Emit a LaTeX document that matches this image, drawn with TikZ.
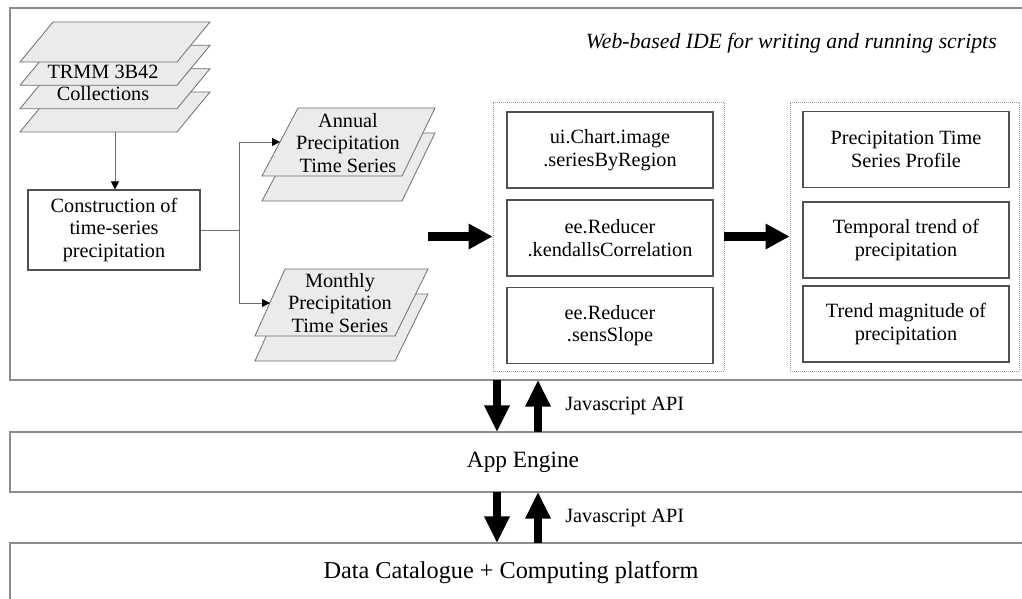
\documentclass[tikz,border=0pt]{standalone}
\usepackage{fontspec}
\setmainfont{Liberation Serif}
\usetikzlibrary{arrows.meta}

\definecolor{sheetfill}{HTML}{EBEBEB}
\definecolor{sheetline}{HTML}{6E6E6E}
\definecolor{boxline}{HTML}{505050}
\definecolor{frameline}{HTML}{8C8C8C}
\definecolor{dotline}{HTML}{9A9A9A}

\begin{document}
\begin{tikzpicture}[x=0.75pt,y=-0.75pt,
  txt/.style={font=\fontsize{15.2}{16.9}\selectfont, align=center, inner sep=0pt},
  bandtxt/.style={font=\fontsize{17.5}{19}\selectfont, inner sep=0pt},
  titletxt/.style={font=\fontsize{16.3}{18}\selectfont\itshape, inner sep=0pt},
  sheet/.style={fill=sheetfill, draw=sheetline, line width=0.6pt},
  frame/.style={draw=frameline, line width=0.9pt},
  group/.style={draw=dotline, densely dotted, line width=0.5pt, inner sep=0pt},
  stepbox/.style={txt, draw=boxline, line width=0.9pt, minimum width=154.5pt, minimum height=57pt},
  thin/.style={draw=sheetline, line width=0.6pt, -{Triangle[length=6pt,width=6pt,color=black]}},
  bigarrow/.style={line width=7pt, -{Triangle[length=18pt,width=18pt]}},
  vbigarrow/.style={line width=6.5pt, -{Triangle[length=20pt,width=18pt]}}]

\useasboundingbox (0,0) rectangle (1022,599);

% layer frames
\draw[frame] (1022,8) -- (10,8) -- (10,380) -- (1022,380);
\draw[frame] (1022,432) -- (10,432) -- (10,492) -- (1022,492);
\draw[frame] (1022,543) -- (10,543) -- (10,600);

\node[titletxt, anchor=east] (ide) at (997,43) {Web-based IDE for writing and running scripts};

% TRMM collection stack (back to front)
\foreach \dy in {70,46.7,23.3,0}
  \draw[sheet] (53,22+\dy) -- (210,22+\dy) -- (177,62+\dy) -- (20,62+\dy) -- cycle;
\node[txt] (trmm) at (103,83) {TRMM 3B42\\Collections};
\coordinate (stackfoot) at (115,132);

\node[txt, draw=boxline, line width=0.9pt, minimum width=129pt, minimum height=60pt]
  (cons) at (114,230) {Construction of\\time-series\\precipitation};
\draw[thin] (stackfoot) -- (stackfoot |- cons.north);

% annual series sheets
\foreach \dy in {25,0}
  \draw[sheet] (298,108+\dy) -- (435,108+\dy) -- (402,176+\dy) -- (262,176+\dy) -- cycle;
\node[txt] (annual) at (348,143) {Annual\\Precipitation\\Time Series};
\coordinate (annualL) at (280,142);

% monthly series sheets
\foreach \dy in {25,0}
  \draw[sheet] (285,269+\dy) -- (428,269+\dy) -- (395,336+\dy) -- (255,336+\dy) -- cycle;
\node[txt] (monthly) at (340,303) {Monthly\\Precipitation\\Time Series};
\coordinate (monthlyL) at (270,303);

\coordinate (fork) at (239,230);
\draw[draw=sheetline, line width=0.6pt] (cons.east) -- (fork);
\draw[thin] (fork) |- (annualL);
\draw[thin] (fork) |- (monthlyL);

% Earth Engine functions
\node[group, minimum width={231*0.75pt}, minimum height={269*0.75pt}] (tools) at (608.5,236.5) {};
\node[stepbox] (chart) at (610,150) {ui.Chart.image\\.seriesByRegion};
\node[stepbox] (kendall) at (610,238) {ee.Reducer\\.kendallsCorrelation};
\node[stepbox] (sens) at (610,325.5) {ee.Reducer\\.sensSlope};

% outputs
\node[group, minimum width={229*0.75pt}, minimum height={269*0.75pt}] (results) at (904.5,236.5) {};
\node[stepbox] (profile) at (906,149.5) {Precipitation Time\\Series Profile};
\node[stepbox] (trend) at (906,240) {Temporal trend of\\precipitation};
\node[stepbox] (magn) at (906,324) {Trend magnitude of\\precipitation};

\coordinate (bigstart) at (428,236.5);
\draw[bigarrow] (bigstart) -- (tools.west);
\draw[bigarrow] (tools.east) -- (results.west);

% API arrows between layers
\coordinate (ideDown) at (497,380);
\coordinate (appIn) at (497,432);
\coordinate (appOut) at (538,432);
\coordinate (ideUp) at (538,380);
\coordinate (appDown) at (497,492);
\coordinate (dataIn) at (497,543);
\coordinate (dataOut) at (538,543);
\coordinate (appUp) at (538,492);
\draw[vbigarrow] (ideDown) -- (appIn);
\draw[vbigarrow] (appOut) -- (ideUp);
\draw[vbigarrow] (appDown) -- (dataIn);
\draw[vbigarrow] (dataOut) -- (appUp);

\node[txt, anchor=west] (api1) at (565,406) {Javascript API};
\node[txt, anchor=west] (api2) at (565,518) {Javascript API};
\node[bandtxt] (app) at (523,462) {App Engine};
\node[bandtxt, font=\fontsize{18.2}{20}\selectfont] (data) at (511,573) {Data Catalogue + Computing platform};
\end{tikzpicture}
\end{document}
